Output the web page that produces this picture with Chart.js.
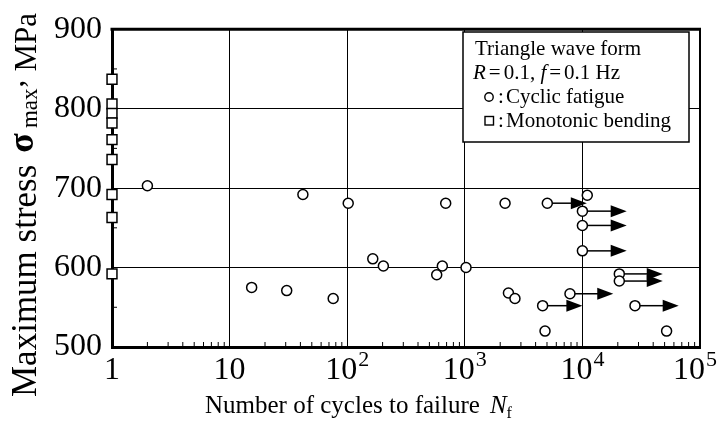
<!DOCTYPE html>
<html><head><meta charset="utf-8">
<script src="https://cdn.jsdelivr.net/npm/chart.js@4/dist/chart.umd.min.js"></script>
<style>html,body{margin:0;padding:0;background:#fff;}#wrap{width:720px;height:426px;}</style>
</head><body><div id="wrap"><canvas id="c" width="720" height="426"></canvas></div>
<script>
// ---- data ----
const monoN = [1, 1, 1, 1, 1, 1, 1, 1, 1];
const monoS = [837, 806, 794, 782, 761, 736, 692, 663, 592];
const fatigueN = [2.0, 42, 102, 688, 165, 203, 577, 644, 1024, 15.4, 30.6, 76, 2200, 11000, 2350, 2670, 4810, 52000];
const fatigueS = [703, 692, 681, 681, 611, 602, 591, 602, 600, 575, 571, 561, 681, 691, 568, 561, 520, 520];
const runoutN = [5030, 10000, 10000, 10000, 20600, 20600, 7840, 4590, 28000];
const runoutS = [681, 671, 653, 621, 592, 583, 567, 552, 552];
const runoutArrowTo = [10900, 23800, 23800, 23800, 48200, 48200, 18300, 10000, 65900];
const xTickValues = [1, 10, 100, 1000, 10000, 100000];
const xTickMantissa = ['1', '10', '10', '10', '10', '10'];
const xTickExponent = ['', '', '2', '3', '4', '5'];
const yTickMin = 500, yTickMax = 900, yTickStep = 100;
const yMinorTicks = [550, 650, 750, 850];
const legendLines = ['Triangle wave form', 'Cyclic fatigue', 'Monotonic bending'];

const SERIF = "'Liberation Serif','Times New Roman',serif";
const toXY = (xs, ys) => xs.map((v, i) => ({ x: v, y: ys[i] }));

const decorations = {
  id: 'decorations',
  beforeDatasetsDraw(chart) {
    const { ctx, scales: { x, y } } = chart;
    ctx.save();
    ctx.strokeStyle = '#000'; ctx.fillStyle = '#000'; ctx.lineWidth = 1.5;
    runoutN.forEach((n, i) => {
      const x0 = x.getPixelForValue(n), yy = y.getPixelForValue(runoutS[i]);
      const x1 = x.getPixelForValue(runoutArrowTo[i]);
      const hl = 16, hw = 6;
      ctx.beginPath(); ctx.moveTo(x0, yy); ctx.lineTo(x1 - hl + 1, yy); ctx.stroke();
      ctx.beginPath(); ctx.moveTo(x1, yy); ctx.lineTo(x1 - hl, yy - hw); ctx.lineTo(x1 - hl, yy + hw); ctx.closePath(); ctx.fill();
    });
    ctx.restore();
  },
  afterDraw(chart) {
    const { ctx, chartArea: a, scales: { x, y } } = chart;
    ctx.save();
    ctx.strokeStyle = '#000'; ctx.fillStyle = '#000';
    // top and right frame
    ctx.lineWidth = 3;
    ctx.beginPath(); ctx.moveTo(a.left - 1.5, a.top); ctx.lineTo(a.right + 1, a.top); ctx.stroke();
    ctx.lineWidth = 2;
    ctx.beginPath(); ctx.moveTo(a.right, a.top); ctx.lineTo(a.right, a.bottom); ctx.stroke();
    // minor ticks
    ctx.lineWidth = 1;
    for (let k = 0; k < 5; k++) {
      for (let m = 2; m <= 9; m++) {
        const px = x.getPixelForValue(m * Math.pow(10, k));
        ctx.beginPath(); ctx.moveTo(px, a.bottom); ctx.lineTo(px, a.bottom - 5); ctx.stroke();
      }
    }
    yMinorTicks.forEach(v => {
      const py = y.getPixelForValue(v);
      ctx.beginPath(); ctx.moveTo(a.left, py); ctx.lineTo(a.left + 5, py); ctx.stroke();
    });
    // x tick labels with superscripts
    ctx.textBaseline = 'alphabetic'; ctx.textAlign = 'left';
    xTickValues.forEach((v, i) => {
      const px = x.getPixelForValue(v);
      ctx.font = '32px ' + SERIF;
      const wm = ctx.measureText(xTickMantissa[i]).width;
      ctx.font = '22px ' + SERIF;
      const we = xTickExponent[i] ? ctx.measureText(xTickExponent[i]).width + 1 : 0;
      let left = px - (wm + we) / 2;
      if (left + wm + we > 717) left = 717 - wm - we;
      ctx.font = '32px ' + SERIF;
      ctx.fillText(xTickMantissa[i], left, 379);
      if (xTickExponent[i]) {
        ctx.font = '22px ' + SERIF;
        ctx.fillText(xTickExponent[i], left + wm + 1, 366);
      }
    });
    // x axis title
    let cx = 205;
    ctx.font = '25px ' + SERIF;
    ctx.fillText('Number of cycles to failure', cx, 413);
    cx += ctx.measureText('Number of cycles to failure').width + 10;
    ctx.font = 'italic 25px ' + SERIF;
    ctx.fillText('N', cx, 413);
    cx += ctx.measureText('N').width;
    ctx.font = '16px ' + SERIF;
    ctx.fillText('f', cx, 418);
    // y axis title (rotated)
    ctx.save();
    ctx.translate(36, 397); ctx.rotate(-Math.PI / 2);
    let ry = 0;
    ctx.font = '35px ' + SERIF;
    ctx.fillText('Maximum stress', ry, 0);
    ry += ctx.measureText('Maximum stress').width + 12;
    ctx.font = 'bold 36px ' + SERIF;
    ctx.fillText('σ', ry, -3);
    ry += ctx.measureText('σ').width + 5;
    ctx.font = '23px ' + SERIF;
    ctx.fillText('max', ry, 1);
    ry += ctx.measureText('max').width + 1;
    ctx.font = '31px ' + SERIF;
    ctx.fillText(',', ry, -13);
    ry += 16;
    ctx.fillText('MPa', ry, 0);
    ctx.restore();
    // legend box
    ctx.fillStyle = '#fff';
    ctx.fillRect(463, 32, 226, 110);
    ctx.lineWidth = 1.5; ctx.strokeStyle = '#000';
    ctx.strokeRect(463, 32, 226, 110);
    ctx.fillStyle = '#000';
    ctx.font = '21px ' + SERIF;
    ctx.fillText(legendLines[0], 475, 55);
    // R = 0.1, f = 0.1 Hz
    let lx = 473;
    const piece = (txt, font, gap) => { ctx.font = font; ctx.fillText(txt, lx, 79); lx += ctx.measureText(txt).width + (gap || 0); };
    piece('R', 'italic 21px ' + SERIF, 3);
    piece('=', '21px ' + SERIF, 3);
    piece('0.1, ', '21px ' + SERIF, 0);
    piece('f', 'italic 21px ' + SERIF, 3);
    piece('=', '21px ' + SERIF, 3);
    piece('0.1 Hz', '21px ' + SERIF, 0);
    // symbol lines
    ctx.font = '21px ' + SERIF;
    ctx.lineWidth = 1.4;
    ctx.beginPath(); ctx.arc(489, 97, 4.2, 0, Math.PI * 2); ctx.stroke();
    ctx.fillText(':', 498, 103);
    ctx.fillText(legendLines[1], 506, 103);
    ctx.strokeRect(485, 116.5, 8.5, 8.5);
    ctx.fillText(':', 498, 127);
    ctx.fillText(legendLines[2], 506, 127);
    ctx.restore();
  }
};

new Chart(document.getElementById('c'), {
  type: 'scatter',
  data: {
    datasets: [
      { label: 'Monotonic bending', data: toXY(monoN, monoS), pointStyle: 'rect', pointRadius: 7,
        borderColor: '#000', backgroundColor: '#fff', borderWidth: 1.5, clip: false },
      { label: 'Cyclic fatigue', data: toXY(fatigueN, fatigueS), pointStyle: 'circle', pointRadius: 5,
        borderColor: '#000', backgroundColor: '#fff', borderWidth: 1.5, clip: false },
      { label: 'Cyclic fatigue (run-out)', data: toXY(runoutN, runoutS), pointStyle: 'circle', pointRadius: 5,
        borderColor: '#000', backgroundColor: '#fff', borderWidth: 1.5, clip: false }
    ]
  },
  options: {
    responsive: false, animation: false, devicePixelRatio: 1,
    layout: { padding: { left: 44, top: 27, right: 20, bottom: 79 } },
    plugins: { legend: { display: false }, tooltip: { enabled: false } },
    scales: {
      x: {
        type: 'logarithmic', min: xTickValues[0], max: xTickValues[xTickValues.length - 1],
        afterBuildTicks: s => { s.ticks = xTickValues.map(v => ({ value: v })); },
        ticks: { display: false },
        grid: { color: '#000', lineWidth: 1, drawTicks: false },
        border: { display: true, color: '#000', width: 3 }
      },
      y: {
        type: 'linear', min: yTickMin, max: yTickMax,
        ticks: { stepSize: yTickStep, color: '#000', font: { family: SERIF, size: 32 }, padding: 10 },
        grid: { color: '#000', lineWidth: 1, drawTicks: false },
        border: { display: true, color: '#000', width: 3 }
      }
    }
  },
  plugins: [decorations]
});
</script>
</body></html>
